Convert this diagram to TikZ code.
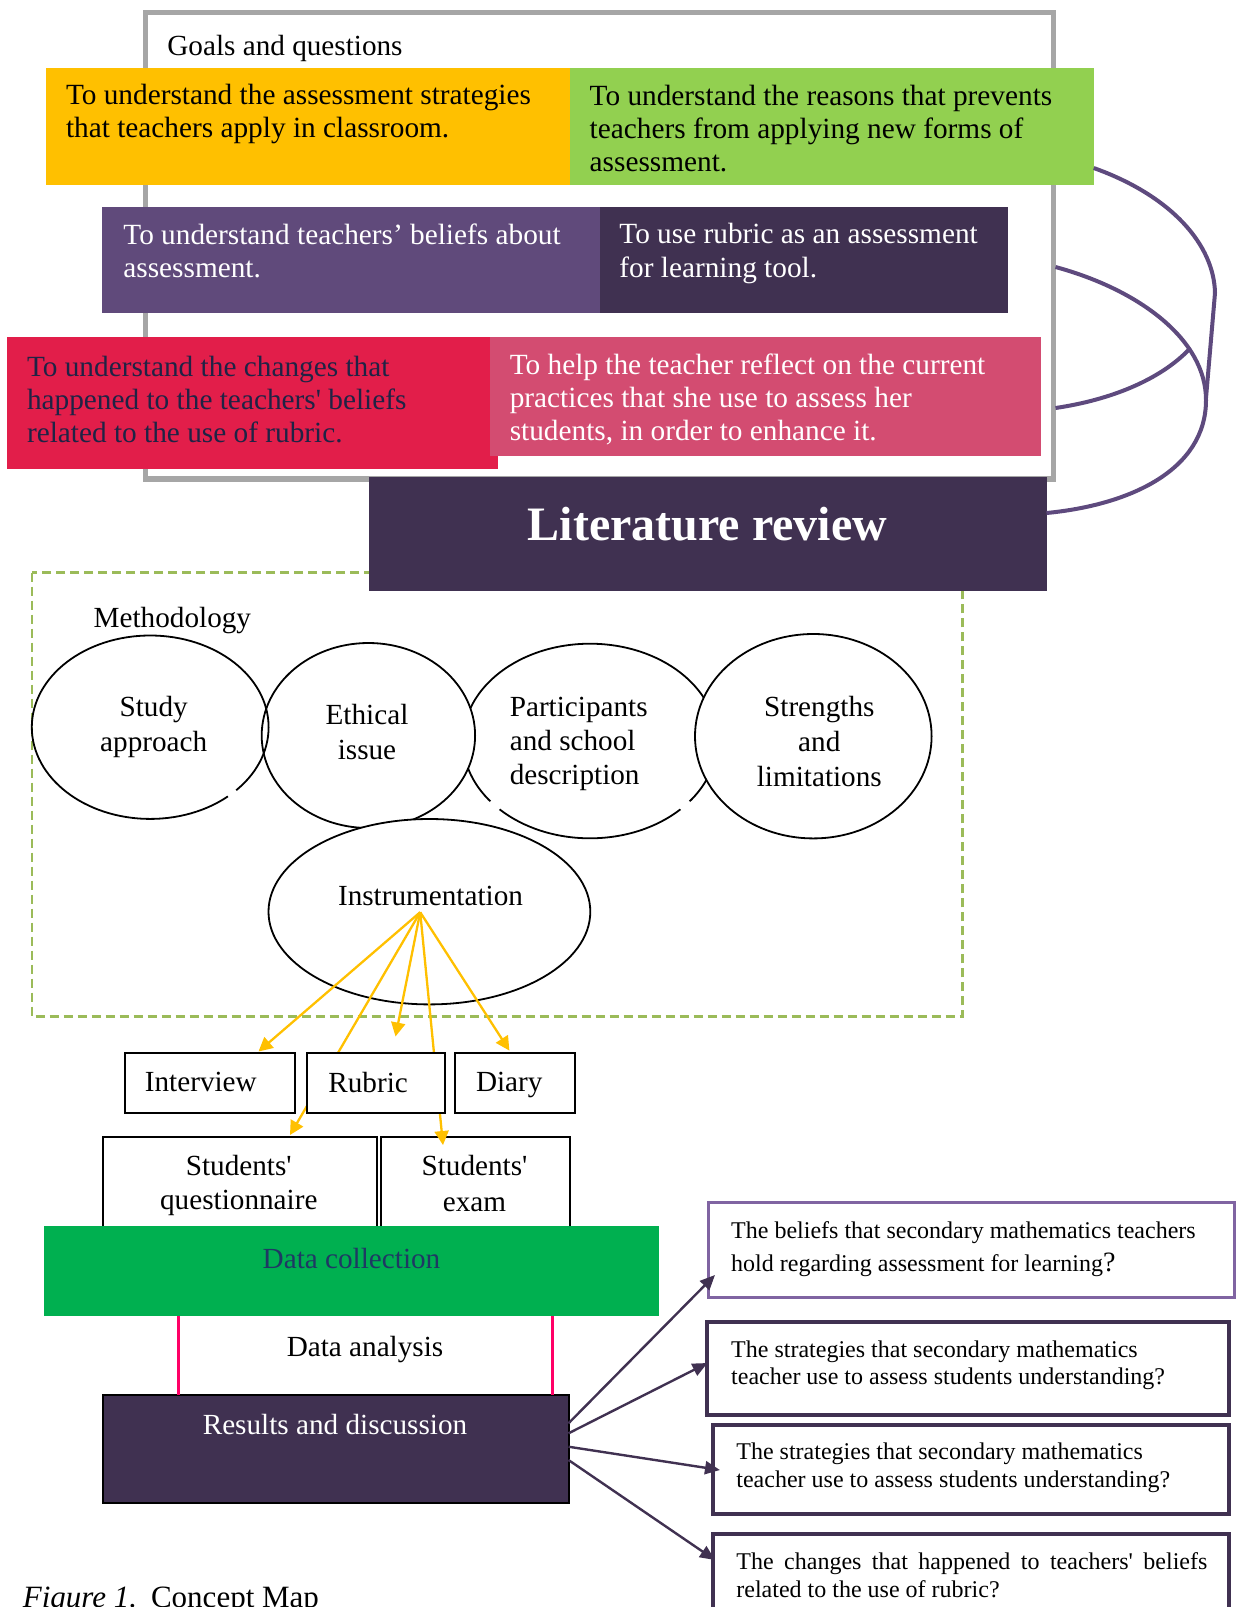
\documentclass[tikz,border=0pt]{standalone}
\usepackage{fontspec}
\setmainfont{Liberation Serif}[Ligatures=TeXOff]
\usetikzlibrary{shapes.geometric,fit,arrows.meta}
\hyphenpenalty=10000
\exhyphenpenalty=10000

\definecolor{goalyellow}{HTML}{FFC000}
\definecolor{goalgreen}{HTML}{92D050}
\definecolor{goalpurple}{HTML}{604A7B}
\definecolor{deeppurple}{HTML}{403151}
\definecolor{goalcrimson}{HTML}{E21E4A}
\definecolor{goalrose}{HTML}{D34C71}
\definecolor{inknavy}{HTML}{1F2345}
\definecolor{framegray}{HTML}{A6A6A6}
\definecolor{linkpurple}{HTML}{5E4A7E}
\definecolor{methodgreen}{HTML}{9BBB59}
\definecolor{fanyellow}{HTML}{FFC000}
\definecolor{collectgreen}{HTML}{00B050}
\definecolor{collectnavy}{HTML}{1F3864}
\definecolor{analysispink}{HTML}{FF0066}
\definecolor{questionlilac}{HTML}{8064A2}

\tikzset{
  panel/.style={inner sep=0pt, outer sep=0pt},
  goaltext/.style={inner sep=0pt, anchor=west, align=left, font=\fontsize{14.65}{16.6}\selectfont},
  plaintext/.style={inner sep=0pt, font=\fontsize{14.6}{17.5}\selectfont},
  bubble/.style={ellipse, draw=black, line width=0.9pt, inner sep=0pt},
  toolbox/.style={draw=black, line width=1pt, fill=white, inner sep=0pt, outer sep=0pt},
  fanarrow/.style={draw=fanyellow, line width=1.15pt, -{Triangle[length=7pt,width=7pt]}},
  answerarrow/.style={draw=deeppurple, line width=1.2pt, -{Triangle[length=7.5pt,width=6.5pt]}},
  goallink/.style={draw=linkpurple, line width=2pt},
  questionbox/.style={draw=deeppurple, line width=2pt, inner sep=0pt, outer sep=0pt},
  qtext/.style={inner sep=0pt, anchor=west, align=left},
}

\begin{document}
\begin{tikzpicture}[x=0.5pt, y=-0.5pt]
\useasboundingbox (0,0) rectangle (1236,1607);

% ---------- goals and questions ----------
\draw[framegray, line width=2.75pt] (145.3,12.5) rectangle (1053.3,479);
\node[plaintext, anchor=west] (goalstitle) at (167,48) {Goals and questions};

\node[panel, fill=goalyellow, fit={(46,67.5) (570,184.5)}] (yellowbox) {};
\node[panel, fill=goalgreen, fit={(570,67.5) (1093.7,184.5)}] (greenbox) {};
\node[goaltext] (yellowtext) at (65.6,114)
  {To understand the assessment strategies\\that teachers apply in classroom.};
\node[goaltext] (greentext) at (589.3,128.6)
  {To understand the reasons that prevents\\teachers from applying new forms of\\assessment.};

\node[panel, fill=goalpurple, fit={(102,206.5) (599.5,312.7)}] (purplebox) {};
\node[panel, fill=deeppurple, fit={(599.5,206.5) (1007.7,312.7)}] (darkbox) {};
\node[goaltext, text=white] (purpletext) at (123,251)
  {To understand teachers’ beliefs about\\assessment.};
\node[goaltext, text=white] (darktext) at (619,253.5)
  {To use rubric as an assessment\\for learning tool.};

\node[panel, fill=goalcrimson, fit={(7,337.3) (497.5,468.5)}] (crimsonbox) {};
\node[panel, fill=goalrose, fit={(489.5,337.3) (1041,455.7)}] (rosebox) {};
\node[goaltext, text=inknavy] (crimsontext) at (26.6,399.5)
  {To understand the changes that\\happened to the teachers' beliefs\\related to the use of rubric.};
\node[goaltext, text=white] (rosetext) at (509.4,399.5)
  {To help the teacher reflect on the current\\practices that she use to assess her\\students, in order to enhance it.};

% ---------- methodology frame and literature review ----------
\draw[methodgreen, line width=1.25pt, dash pattern=on 4.5pt off 2.5pt]
  (31.8,572.5) rectangle (962.3,1016.7);

\node[panel, fill=deeppurple, fit={(369,477.3) (1046.5,590.5)}] (litbox) {};
\node[inner sep=0pt, text=white, font=\bfseries\fontsize{24}{28}\selectfont] (littext)
  at (707.5,524) {Literature review};

% curved links between the goals and the literature review
\coordinate (linkA) at (1093.7,168);
\coordinate (linkB) at (1055.5,267);
\coordinate (linkC) at (1055.5,408);
\coordinate (linkD) at (1046.5,513);
\coordinate (linkJoin) at (1206,400);
\coordinate (linkMeet) at (1189.5,349);
\draw[goallink] (linkA) .. controls (1172,196) and (1214,245) .. (1215,293) -- (1206,398);
\draw[goallink] (linkB) .. controls (1140,290) and (1206,340) .. (linkJoin)
  .. controls (1206,470) and (1130,505) .. (linkD);
\draw[goallink] (linkC) .. controls (1110,400) and (1160,380) .. (linkMeet);

% ---------- methodology bubbles ----------
\node[plaintext, anchor=west] (methodtitle) at (93.3,621) {Methodology};

\node[bubble, fill=white, minimum width=127pt, minimum height=97.3pt] (partell) at (590,741) {};
\node[bubble, fill=white, minimum width=106.7pt, minimum height=92.5pt] (ethicell) at (368.4,735.5) {};
\node[bubble, fill=white, minimum width=118.3pt, minimum height=102.2pt] (strengthell) at (813.3,736.2) {};
\node[bubble, minimum width=118.4pt, minimum height=91.7pt] (studyell) at (150.2,727.2) {};
\node[bubble, fill=white, minimum width=160.9pt, minimum height=92.7pt] (instrell) at (429.4,911.7) {};

% small breaks in the bubble outlines
\draw[white, line width=2pt] (228.3,796.6) -- (236.2,790.4);
\draw[white, line width=2pt] (490.5,801.4) -- (499.5,809.2);
\draw[white, line width=2pt] (680.5,809.2) -- (689.5,801.4);

\node[plaintext, align=center] (studytext) at (153.7,727) {Study\\approach};
\node[plaintext, align=center] (ethictext) at (367,732.5) {Ethical\\issue};
\node[plaintext, anchor=west, align=left, font=\fontsize{14.6}{17}\selectfont] (parttext)
  at (509.4,744) {Participants\\and school\\description};
\node[plaintext, align=center] (strengthtext) at (819.3,741.7) {Strengths\\and\\limitations};
\node[plaintext] (instrtext) at (430.5,896) {Instrumentation};

% ---------- instruments ----------
\node[toolbox, fit={(102.5,1136.7) (376.7,1235)}] (questbox) {};
\node[toolbox, fit={(380.7,1136.7) (570,1235)}] (exambox) {};
\node[plaintext, align=center, font=\fontsize{14.6}{17}\selectfont] (questtext)
  at (238.8,1185.2) {Students'\\questionnaire};
\node[plaintext, align=center, font=\fontsize{14.6}{18}\selectfont] (examtext)
  at (474.5,1183.3) {Students'\\exam};

\node[panel, fill=collectgreen, fit={(44,1225.8) (659.3,1316)}] (collectbox) {};
\node[plaintext, text=collectnavy] (collecttext) at (351.5,1258.6) {Data collection};

\coordinate (fan) at (420.2,912.2);
\coordinate (tipInterview) at (258.5,1051.5);
\coordinate (tipQuest) at (290,1135);
\coordinate (tipRubric) at (395.5,1036.5);
\coordinate (tipExam) at (443,1145);
\coordinate (tipDiary) at (509.4,1050.6);
\draw[fanarrow] (fan) -- (tipInterview);
\draw[fanarrow] (fan) -- (tipQuest);
\draw[fanarrow] (fan) -- (tipRubric);
\draw[fanarrow] (fan) -- (tipExam);
\draw[fanarrow] (fan) -- (tipDiary);

\node[toolbox, fit={(125,1052.7) (295,1112.7)}] (interviewbox) {};
\node[toolbox, fit={(306.7,1052.7) (445,1112.7)}] (rubricbox) {};
\node[toolbox, fit={(454.5,1052.7) (575,1112.7)}] (diarybox) {};
\node[plaintext, anchor=west] (interviewtext) at (144.5,1082.3) {Interview};
\node[plaintext, anchor=west] (rubrictext) at (328,1082.3) {Rubric};
\node[plaintext, anchor=west] (diarytext) at (475.6,1085.3) {Diary};

% ---------- analysis and results ----------
\node[panel, draw=black, line width=1pt, fill=deeppurple, fit={(102.5,1395) (568.5,1503)}] (resultbox) {};
\node[plaintext, text=white] (resulttext) at (335,1424.6) {Results and discussion};

\coordinate (pillarL) at (178,0);
\coordinate (pillarR) at (552.7,0);
\draw[analysispink, line width=1.5pt] (collectbox.south -| pillarL) -- (resultbox.north -| pillarL);
\draw[analysispink, line width=1.5pt] (collectbox.south -| pillarR) -- (resultbox.north -| pillarR);
\node[plaintext] (analysistext) at (365,1350) {Data analysis};

% ---------- research questions ----------
\node[questionbox, draw=questionlilac, line width=1.5pt, fit={(708.5,1202.5) (1234.5,1297)}] (qone) {};
\node[questionbox, fit={(707,1322) (1228.5,1414.5)}] (qtwo) {};
\node[questionbox, fit={(713,1424.5) (1228.5,1514)}] (qthree) {};
\node[questionbox, fit={(713,1534) (1228.5,1660)}] (qfour) {};

\node[qtext, font=\fontsize{12}{16.4}\selectfont] (qonetext) at (730.8,1249.4)
  {The beliefs that secondary mathematics teachers\\hold regarding assessment for learning{\fontsize{14}{14}\selectfont ?}};
\node[qtext, font=\fontsize{12}{13.3}\selectfont] (qtwotext) at (730.8,1365.2)
  {The strategies that secondary mathematics\\teacher use to assess students understanding?};
\node[qtext, font=\fontsize{12}{14}\selectfont] (qthreetext) at (736,1468)
  {The strategies that secondary mathematics\\teacher use to assess students understanding?};
\node[qtext, align=justify, text width=235.5pt, font=\fontsize{12}{13.8}\selectfont] (qfourtext) at (736,1575.5)
  {The changes that happened to teachers' beliefs related to the use of rubric?};

\coordinate (fromOne) at (568.5,1423.3);
\coordinate (fromTwo) at (568.5,1433.3);
\coordinate (fromThree) at (568.5,1446.7);
\coordinate (fromFour) at (568.5,1460);
\coordinate (toOne) at (715,1275);
\coordinate (toTwo) at (707.5,1363);
\coordinate (toThree) at (720,1470);
\coordinate (toFour) at (715,1560);
\draw[answerarrow] (fromOne) -- (toOne);
\draw[answerarrow] (fromTwo) -- (toTwo);
\draw[answerarrow] (fromThree) -- (toThree);
\draw[answerarrow] (fromFour) -- (toFour);

% ---------- caption ----------
\node[anchor=base west, inner sep=0pt, font=\fontsize{15.5}{18}\selectfont] (caption)
  at (22.5,1607) {\textit{Figure 1.}\hspace{0.45em}Concept Map};
\end{tikzpicture}
\end{document}
